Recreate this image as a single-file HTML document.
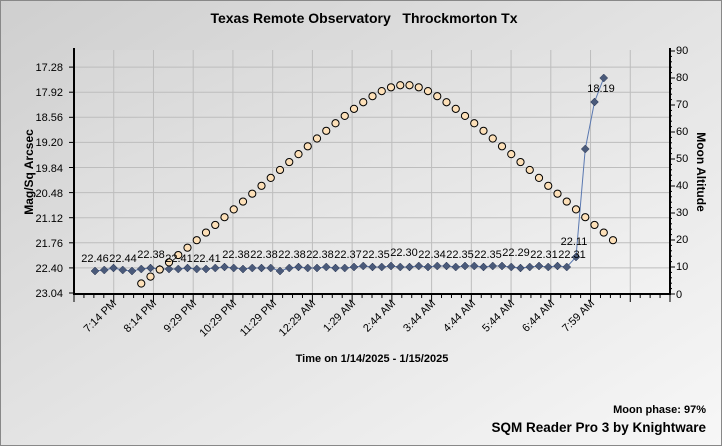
<!DOCTYPE html>
<html><head><meta charset="utf-8"><style>
html,body{margin:0;padding:0;}
body{width:722px;height:446px;overflow:hidden;}
svg{display:block;font-family:"Liberation Sans",Arial,sans-serif;}
</style></head><body>
<svg id="s" width="722" height="446" viewBox="0 0 722 446" xmlns="http://www.w3.org/2000/svg">
<defs>
<linearGradient id="bg" x1="0" y1="0" x2="1" y2="1">
<stop offset="0" stop-color="#cfcfcf"/><stop offset="1" stop-color="#f7f7f7"/></linearGradient>
<linearGradient id="pl" x1="0" y1="0" x2="1" y2="1">
<stop offset="0" stop-color="#d6d6d6"/><stop offset="1" stop-color="#f2f2f2"/></linearGradient>
</defs>
<rect x="0.5" y="0.5" width="721" height="445" fill="url(#bg)" stroke="#888"/>
<rect x="74" y="50" width="596" height="244" fill="url(#pl)"/>
<g id="grid" stroke="#bdbdbd" stroke-width="1"></g>
<g id="series"></g>
<g id="axes" stroke="#000"></g>
<text x="364" y="23" text-anchor="middle" font-size="14" font-weight="bold" xml:space="preserve">Texas Remote Observatory   Throckmorton Tx</text>
<g font-size="11" text-anchor="end" fill="#000">
<text x="63" y="71">17.28</text><text x="63" y="96">17.92</text><text x="63" y="121">18.56</text>
<text x="63" y="146">19.20</text><text x="63" y="172">19.84</text><text x="63" y="197">20.48</text>
<text x="63" y="222">21.12</text><text x="63" y="247">21.76</text><text x="63" y="272">22.40</text>
<text x="63" y="297">23.04</text>
</g>
<g font-size="11" fill="#000">
<text x="676" y="54">90</text><text x="676" y="81">80</text><text x="676" y="108">70</text>
<text x="676" y="135">60</text><text x="676" y="162">50</text><text x="676" y="189">40</text>
<text x="676" y="216">30</text><text x="676" y="243">20</text><text x="676" y="270">10</text>
<text x="676" y="298">0</text>
</g>
<text transform="translate(33,172) rotate(-90)" text-anchor="middle" font-size="12" font-weight="bold">Mag/Sq Arcsec</text>
<text transform="translate(697,172) rotate(90)" text-anchor="middle" font-size="12" font-weight="bold">Moon Altitude</text>
<g font-size="11" text-anchor="end">
<text transform="translate(117,304) rotate(-45)">7:14 PM</text>
<text transform="translate(157,304) rotate(-45)">8:14 PM</text>
<text transform="translate(197,304) rotate(-45)">9:29 PM</text>
<text transform="translate(237,304) rotate(-45)">10:29 PM</text>
<text transform="translate(277,304) rotate(-45)">11:29 PM</text>
<text transform="translate(316,304) rotate(-45)">12:29 AM</text>
<text transform="translate(356,304) rotate(-45)">1:29 AM</text>
<text transform="translate(396,304) rotate(-45)">2:44 AM</text>
<text transform="translate(436,304) rotate(-45)">3:44 AM</text>
<text transform="translate(476,304) rotate(-45)">4:44 AM</text>
<text transform="translate(515,304) rotate(-45)">5:44 AM</text>
<text transform="translate(555,304) rotate(-45)">6:44 AM</text>
<text transform="translate(595,304) rotate(-45)">7:59 AM</text>
</g>
<text x="372" y="362" text-anchor="middle" font-size="11" font-weight="bold">Time on 1/14/2025 - 1/15/2025</text>
<g font-size="11" text-anchor="middle" fill="#000">
<text x="95" y="262">22.46</text><text x="123" y="262">22.44</text><text x="151" y="258">22.38</text>
<text x="179" y="262">22.41</text><text x="207" y="262">22.41</text><text x="236" y="258">22.38</text>
<text x="264" y="258">22.38</text><text x="292" y="258">22.38</text><text x="320" y="258">22.38</text>
<text x="348" y="258">22.37</text><text x="376" y="258">22.35</text><text x="404" y="256">22.30</text>
<text x="432" y="258">22.34</text><text x="460" y="258">22.35</text><text x="488" y="258">22.35</text>
<text x="516" y="256">22.29</text><text x="544" y="258">22.31</text><text x="572" y="258">22.31</text>
</g>
<text x="574" y="245" text-anchor="middle" font-size="11">22.11</text>
<text x="601" y="92" text-anchor="middle" font-size="11">18.19</text>
<text x="706" y="413" text-anchor="end" font-size="11" font-weight="bold">Moon phase: 97%</text>
<text x="706" y="432" text-anchor="end" font-size="13.5" font-weight="bold">SQM Reader Pro 3 by Knightware</text>
<script>
(function(){
var NS="http://www.w3.org/2000/svg";
function el(p,t,a){var e=document.createElementNS(NS,t);for(var k in a)e.setAttribute(k,a[k]);document.getElementById(p).appendChild(e);return e;}
var L=74,R=670,T=50,B=294;
for(var i=1;i<15;i++){var x=L+i*(R-L)/15;el("grid","line",{x1:x,y1:T,x2:x,y2:B});}
for(var j=1;j<=9;j++){var y=293-j*25.1;el("grid","line",{x1:L,y1:y,x2:R,y2:y});}
el("axes","line",{x1:L,y1:T-2,x2:L,y2:B+1,"stroke-width":2});
el("axes","line",{x1:L-1,y1:B,x2:R+1,y2:B,"stroke-width":2});
el("axes","line",{x1:R,y1:T-2,x2:R,y2:B+1,"stroke-width":2});
for(var j=0;j<=9;j++){var y=293-j*25.1;el("axes","line",{x1:L-5,y1:y,x2:L,y2:y});}
for(var j=0;j<=9;j++){var y=294-j*27.0;el("axes","line",{x1:R,y1:y,x2:R+5,y2:y});}
for(var j=0;j<=45;j++){var y=294-j*5.4;el("axes","line",{x1:R,y1:y,x2:R+2,y2:y});}
for(var i=0;i<=60;i++){var x=L+i*(R-L)/60;el("axes","line",{x1:x,y1:B,x2:x,y2:B+(i%4==0?8:4)});}
var ys=[271,270,268,270,271,269,268,269,269,269,268,269,269,268,267,268,269,268,268,268,271,268,267,268,268,267,268,268,267,266,267,267,266,267,267,266,267,266,266,267,266,266,267,266,266,267,268,267,266,267,266,267,266,267,266,267,266,266];
var pts=[];
for(var i=0;i<56;i++){var x=95+i*9.25;var y=ys[i];
if(i==52)y=257;if(i==53)y=149;if(i==54)y=102;if(i==55)y=78;pts.push([x,y]);}
el("series","polyline",{points:pts.map(function(p){return p.join(",")}).join(" "),fill:"none",stroke:"#5a78b0","stroke-width":1});
pts.forEach(function(p){el("series","polygon",{points:(p[0])+","+(p[1]-4)+" "+(p[0]+4)+","+p[1]+" "+p[0]+","+(p[1]+4)+" "+(p[0]-4)+","+p[1],fill:"#4a5a7a",stroke:"#2a3550","stroke-width":0.5});});
for(var i=5;i<=56;i++){var x=95+i*9.25;var s=0.272+0.704*Math.cos((i-33.5)*3.75*Math.PI/180);
var a=Math.asin(s)*180/Math.PI;var y=294-a*2.7;el("series","circle",{cx:x,cy:y,r:3.6,fill:"#fde0b8",stroke:"#000","stroke-width":1});}
})();
</script>
</svg>
</body></html>
